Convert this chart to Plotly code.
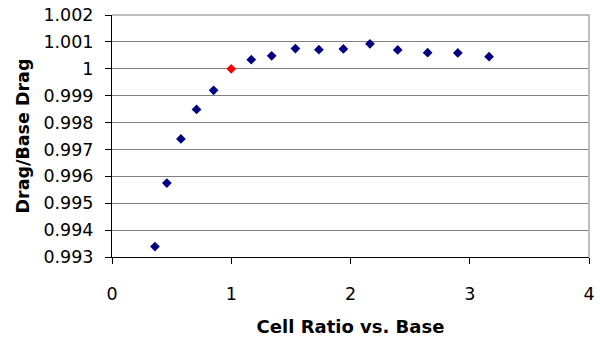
import plotly.graph_objects as go

# Cell ratio relative to the base mesh and the normalised drag
cell_ratio = [0.360, 0.460, 0.578, 0.709, 0.852, 1.168, 1.339, 1.538,
              1.735, 1.940, 2.163, 2.396, 2.647, 2.900, 3.162]
drag_ratio = [0.99339, 0.99575, 0.99739, 0.99849, 0.99920, 1.00034, 1.00048,
              1.00075, 1.00071, 1.00074, 1.00093, 1.00070, 1.00060, 1.00059,
              1.00045]

# Base case
base_ratio = [1.0]
base_drag = [1.0]

y_ticks = [0.993, 0.994, 0.995, 0.996, 0.997, 0.998, 0.999, 1.000, 1.001, 1.002]
y_tick_text = ["0.993", "0.994", "0.995", "0.996", "0.997", "0.998", "0.999",
               "1", "1.001", "1.002"]
x_ticks = [0, 1, 2, 3, 4]

font_family = "DejaVu Sans, Arial, sans-serif"

fig = go.Figure()
fig.add_trace(go.Scatter(
    x=cell_ratio, y=drag_ratio, mode="markers",
    marker=dict(symbol="diamond", size=7.5, color="#000080"),
    showlegend=False,
))
fig.add_trace(go.Scatter(
    x=base_ratio, y=base_drag, mode="markers",
    marker=dict(symbol="diamond", size=7.5, color="#ff0000"),
    showlegend=False,
))

fig.update_layout(
    width=600, height=339,
    margin=dict(l=112, r=5, t=15, b=82),
    paper_bgcolor="white", plot_bgcolor="white",
    font=dict(family=font_family, size=17.5, color="black"),
    xaxis=dict(
        range=[0, 4], tickvals=x_ticks, showgrid=False, zeroline=False,
        showline=True, linecolor="black", linewidth=1,
        ticks="outside", ticklen=6, tickcolor="black", tickwidth=1,
        ticklabelstandoff=15, ticklabeloverflow="allow",
        title=dict(text="<b>Cell Ratio vs. Base</b>", font=dict(size=18), standoff=17),
    ),
    yaxis=dict(
        range=[0.993, 1.002], tickvals=y_ticks, ticktext=y_tick_text,
        showgrid=True, gridcolor="#808080", gridwidth=1, zeroline=False,
        showline=True, linecolor="black", linewidth=1,
        ticks="outside", ticklen=6, tickcolor="black", tickwidth=1,
        ticklabelstandoff=8,
        title=dict(text="<b>Drag/Base Drag</b>", font=dict(size=17.5), standoff=9),
    ),
    shapes=[
        dict(type="line", xref="paper", yref="paper", x0=1, x1=1, y0=0, y1=1,
             line=dict(color="#c0c0c0", width=2)),
        dict(type="line", xref="paper", yref="paper", x0=0, x1=1, y0=1, y1=1,
             line=dict(color="#808080", width=1)),
    ],
)

fig.write_html("out.html")
